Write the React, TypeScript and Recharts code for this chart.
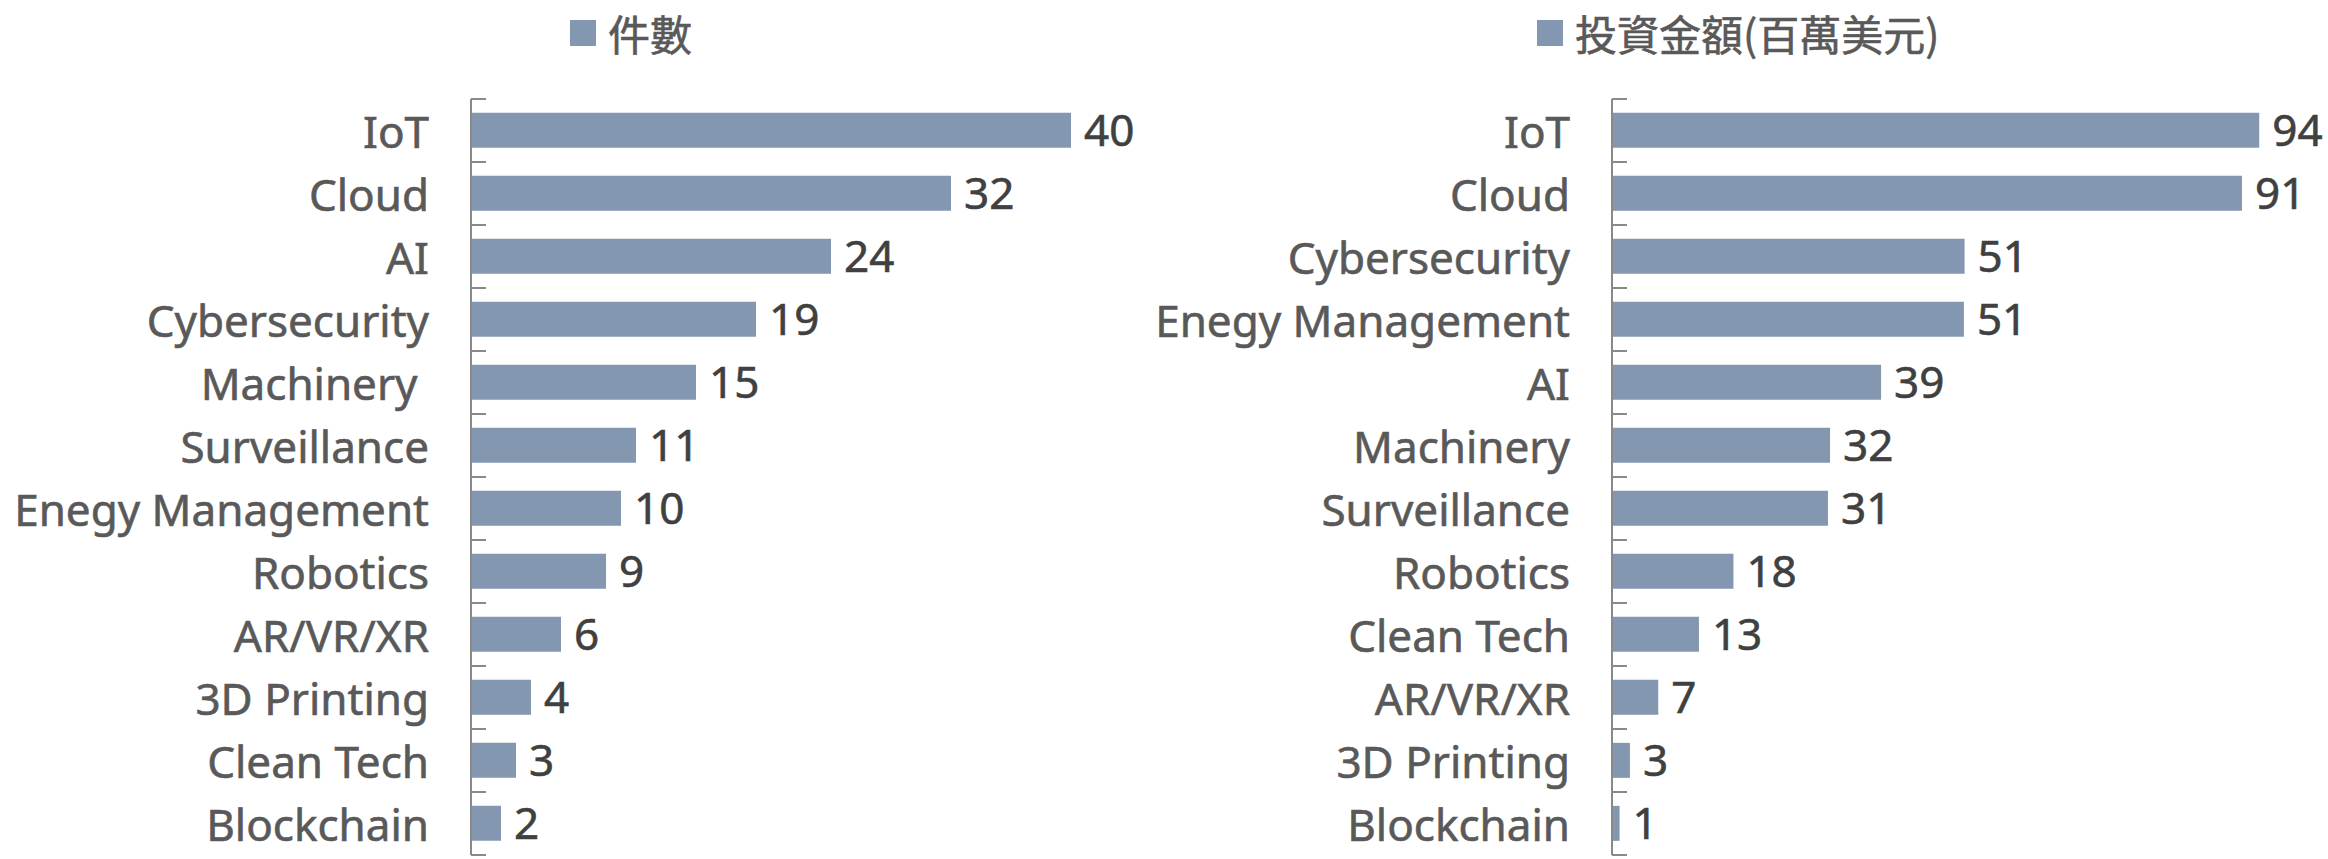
import React from "react";
import { BarChart, Bar, XAxis, YAxis, LabelList, Legend } from "recharts";

const countNames = [
  "IoT",
  "Cloud",
  "AI",
  "Cybersecurity",
  "Machinery\u00a0",
  "Surveillance",
  "Enegy Management",
  "Robotics",
  "AR/VR/XR",
  "3D Printing",
  "Clean Tech",
  "Blockchain",
];
const countValues = [40, 32, 24, 19, 15, 11, 10, 9, 6, 4, 3, 2];

const amountNames = [
  "IoT",
  "Cloud",
  "Cybersecurity",
  "Enegy Management",
  "AI",
  "Machinery",
  "Surveillance",
  "Robotics",
  "Clean Tech",
  "AR/VR/XR",
  "3D Printing",
  "Blockchain",
];
// millions of USD, labels show rounded values
const amountValues = [93.8, 91.3, 51.1, 51.0, 39.0, 31.6, 31.3, 17.6, 12.6, 6.7, 2.6, 1.1];

const countData = countNames.map((name, i) => ({ name, value: countValues[i] }));
const amountData = amountNames.map((name, i) => ({ name, value: amountValues[i] }));

const BAR = "#8497B0";
const AXIS = "#898989";
const LATIN = "'Noto Sans', 'Noto Sans CJK TC', sans-serif";
const CJK = "'Noto Sans CJK TC', 'Noto Sans', sans-serif";
const PLOT_TOP = 99;
const PLOT_H = 756;

const CategoryTick = (props: any) => {
  const { x, y, payload, index } = props;
  const half =
    typeof payload?.offset === "number" && payload.offset > 0
      ? payload.offset
      : PLOT_H / countNames.length / 2;
  const last = index === countNames.length - 1;
  return (
    <g>
      <line x1={x} x2={x + 15} y1={y - half} y2={y - half} stroke={AXIS} strokeWidth={2} />
      {last && (
        <line x1={x} x2={x + 15} y1={y + half} y2={y + half} stroke={AXIS} strokeWidth={2} />
      )}
      <text
        x={x - 42}
        y={y}
        textAnchor="end"
        dominantBaseline="central"
        fill="#595959"
        stroke="#595959"
        strokeWidth={0.6}
        fontSize={44}
        fontFamily={LATIN}
        style={{ whiteSpace: "pre" }}
      >
        {payload.value}
      </text>
    </g>
  );
};

const LegendBox = ({ payload }: any) => (
  <div style={{ display: "flex", alignItems: "center", height: 42 }}>
    <span
      style={{ display: "inline-block", width: 26, height: 26, background: BAR, marginRight: 12 }}
    />
    <span
      style={{
        fontSize: 42,
        lineHeight: "42px",
        color: "#595959",
        fontFamily: CJK,
        WebkitTextStroke: "0.6px #595959",
      }}
    >
      {payload?.[0]?.value}
    </span>
  </div>
);

function HBar({
  data,
  name,
  width,
  axisWidth,
  max,
  rightMargin,
  legendLeft,
}: {
  data: { name: string; value: number }[];
  name: string;
  width: number;
  axisWidth: number;
  max: number;
  rightMargin: number;
  legendLeft: number;
}) {
  return (
    <BarChart
      width={width}
      height={859}
      data={data}
      layout="vertical"
      barCategoryGap="22%"
      margin={{ top: PLOT_TOP, bottom: 859 - PLOT_TOP - PLOT_H, left: 0, right: rightMargin }}
    >
      <XAxis type="number" domain={[0, max]} hide />
      <YAxis
        type="category"
        dataKey="name"
        width={axisWidth}
        interval={0}
        tickSize={0}
        tickMargin={0}
        tickLine={false}
        axisLine={{ stroke: AXIS, strokeWidth: 2 }}
        tick={<CategoryTick />}
      />
      <Legend
        layout="horizontal"
        verticalAlign="middle"
        align="center"
        content={<LegendBox />}
        wrapperStyle={{ left: legendLeft, top: 12, width: "auto", height: 42 }}
      />
      <Bar dataKey="value" name={name} fill={BAR} isAnimationActive={false}>
        <LabelList
          dataKey="value"
          position="right"
          offset={13}
          fill="#404040"
          stroke="#404040"
          strokeWidth={0.6}
          fontSize={44}
          fontFamily={LATIN}
          formatter={(v: any) => Math.round(Number(v))}
        />
      </Bar>
    </BarChart>
  );
}

export default function App() {
  return (
    <div
      style={{
        position: "fixed",
        left: 0,
        top: 0,
        width: 2328,
        height: 859,
        background: "#fff",
      }}
    >
      <div style={{ position: "absolute", left: 0, top: 0 }}>
        <HBar
          data={countData}
          name="件數"
          width={1146}
          axisWidth={471}
          max={45}
          rightMargin={0}
          legendLeft={570}
        />
      </div>
      <div style={{ position: "absolute", left: 1146, top: 0 }}>
        <HBar
          data={amountData}
          name="投資金額(百萬美元)"
          width={1182}
          axisWidth={466}
          max={100}
          rightMargin={26}
          legendLeft={391}
        />
      </div>
    </div>
  );
}
